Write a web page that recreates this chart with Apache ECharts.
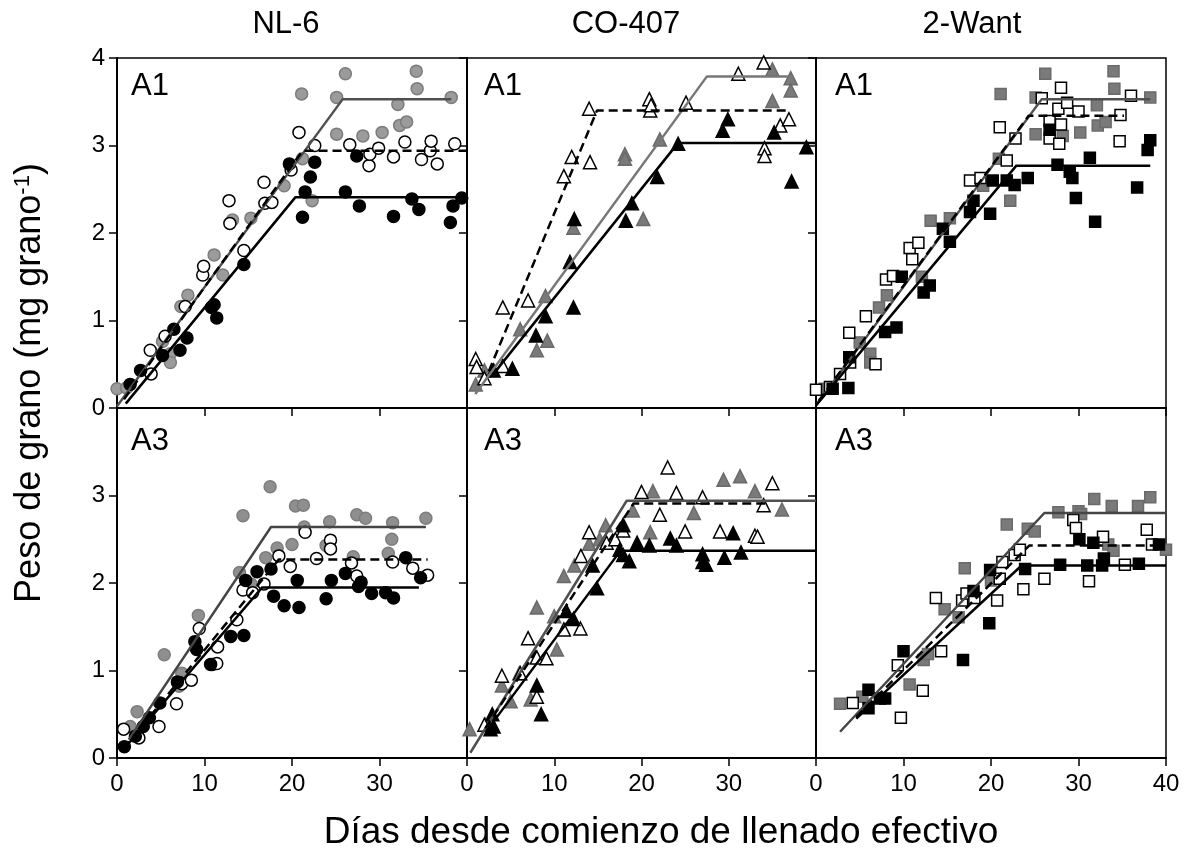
<!DOCTYPE html>
<html><head><meta charset="utf-8">
<script src="https://cdn.jsdelivr.net/npm/echarts@6/dist/echarts.min.js"></script>
<style>html,body{margin:0;padding:0;background:#fff}#c{width:1186px;height:852px}</style>
</head><body><div id="c"></div>
<script>
// ---------- DATA ----------
const columnTitles = ['NL-6', 'CO-407', '2-Want'];
const rowLabels = ['A1', 'A3'];
const xTicks = [0, 10, 20, 30, 40];
const yTicks = [0, 1, 2, 3, 4];
const xAxisTitle = 'Días desde comienzo de llenado efectivo';
const yAxisTitle = 'Peso de grano (mg grano{sup|-1})';

// NL-6, A1 (circles)
const nl6A1Gray = [[0,0.22],[1.1,0.23],[5.2,0.76],[6.1,0.62],[6.1,0.52],[7.3,1.16],[8.1,1.29],[11.1,1.75],[12.1,1.52],[13.2,2.15],[15.3,2.17],[19.1,2.54],[21.1,3.59],[21.2,2.85],[22.3,2.37],[25.1,3.55],[25.1,3.13],[26.1,3.82],[28.1,3.11],[30.3,3.15],[32.1,3.47],[32.3,3.23],[33.1,3.27],[34.2,3.85],[34.3,3.65],[38.2,3.55]];
const nl6A1Open = [[3.8,0.66],[3.9,0.39],[5.5,0.82],[7.8,1.16],[9.8,1.52],[9.9,1.62],[12.8,2.37],[12.9,2.11],[14.5,1.80],[16.8,2.58],[16.9,2.34],[17.7,2.35],[19.9,2.72],[20.8,3.15],[22.6,3.00],[26.6,3.01],[28.8,2.77],[28.9,2.90],[29.9,2.97],[31.6,2.87],[32.9,3.04],[34.8,2.84],[35.8,2.94],[35.9,3.05],[36.6,2.79],[38.6,3.02]];
const nl6A1Black = [[1.5,0.27],[2.7,0.43],[5.2,0.60],[6.5,0.90],[7.2,0.66],[8.0,0.80],[10.8,1.15],[11.1,1.18],[11.4,1.03],[14.5,1.64],[19.7,2.79],[21.2,2.18],[21.5,2.47],[22.1,2.64],[22.6,2.81],[26.1,2.47],[27.4,2.88],[27.7,2.31],[31.6,2.19],[33.7,2.39],[34.5,2.27],[38.1,2.12],[38.4,2.31],[39.4,2.40]];
const nl6A1GrayFit = [[0,0.02],[25.8,3.53],[38.2,3.53]];
const nl6A1DashFit = [[0.8,0.10],[21.2,2.94],[40,2.94]];
const nl6A1BlackFit = [[1,0.05],[20.4,2.41],[40,2.41]];

// CO-407, A1 (triangles)
const co407A1Gray = [[1.0,0.27],[2.0,0.43],[6.1,0.90],[8.0,0.66],[9.0,1.28],[9.2,0.77],[12.2,2.06],[18.1,2.90],[18.1,2.85],[20.2,2.16],[22.1,3.07],[35.0,3.87],[35.0,3.51],[37.1,3.77],[37.1,3.63]];
const co407A1Open = [[1.0,0.56],[1.1,0.47],[2.0,0.34],[4.1,1.15],[4.1,0.48],[7.0,1.23],[11.1,2.65],[12.0,2.87],[14.0,3.42],[14.1,2.81],[20.9,3.53],[21.0,3.40],[21.1,3.46],[25.1,3.49],[31.1,3.82],[34.0,3.95],[34.1,2.97],[34.1,2.88],[35.9,3.23],[36.9,3.30]];
const co407A1Black = [[3.05,0.43],[5.2,0.45],[7.9,0.83],[9.0,1.05],[11.8,1.67],[12.2,1.15],[12.3,2.16],[18.2,2.14],[18.9,2.34],[21.8,2.64],[24.2,3.02],[29.3,3.17],[29.9,3.30],[35.2,3.15],[37.2,2.59],[38.9,2.98]];
const co407A1GrayFit = [[0.95,0.16],[27.5,3.79],[37.2,3.79]];
const co407A1DashFit = [[2.5,0.42],[14.9,3.40],[36.8,3.40]];
const co407A1BlackFit = [[3.2,0.41],[24.2,3.03],[40,3.03]];

// 2-Want, A1 (squares)
const want2A1Gray = [[1.0,0.22],[5.0,0.75],[6.2,0.62],[6.2,0.52],[7.2,1.15],[8.1,1.29],[12.1,1.50],[13.1,2.14],[15.3,2.17],[19.1,2.54],[20.9,2.85],[21.1,3.59],[22.2,2.37],[25.1,3.55],[25.1,3.13],[26.2,3.82],[28.2,3.11],[30.2,3.15],[32.1,3.46],[32.2,3.23],[33.1,3.27],[34.0,3.85],[34.1,3.65],[38.2,3.55]];
const want2A1Open = [[0,0.21],[1.6,0.24],[2.75,0.39],[3.8,0.86],[3.9,0.52],[5.7,1.05],[6.8,0.50],[8.0,1.47],[8.8,1.51],[10.7,1.83],[11.0,1.70],[11.7,1.89],[17.6,2.60],[18.8,2.63],[21.0,3.21],[21.8,2.83],[22.8,3.08],[25.8,3.54],[26.7,3.28],[26.7,3.08],[27.7,3.42],[27.8,3.02],[28.0,3.66],[28.0,3.24],[28.7,3.49],[30.0,3.39],[34.7,3.05],[34.8,3.35],[36.0,3.57]];
const want2A1Black = [[1.9,0.22],[3.7,0.23],[3.8,0.58],[7.9,0.87],[9.2,0.92],[9.8,1.50],[12.3,1.32],[13.0,1.40],[14.5,2.05],[15.3,1.90],[17.6,2.24],[18.0,2.37],[19.9,2.22],[20.2,2.60],[21.8,2.60],[22.7,2.55],[24.2,2.63],[26.7,3.18],[27.6,2.78],[29.0,2.70],[29.3,2.63],[29.7,2.40],[31.3,2.86],[31.9,2.13],[36.7,2.52],[37.9,2.95],[38.2,3.06]];
const want2A1GrayFit = [[0,0.03],[25.8,3.53],[38.2,3.53]];
const want2A1DashFit = [[0.3,0.08],[24.3,3.34],[35.2,3.34]];
const want2A1BlackFit = [[0,0.03],[22.9,2.77],[38.2,2.77]];

// NL-6, A3 (circles)
const nl6A3Gray = [[1.5,0.36],[2.3,0.53],[5.4,1.18],[7.1,0.82],[7.4,0.97],[9.3,1.63],[14.0,2.12],[14.4,2.77],[15.3,1.99],[17.0,2.29],[17.5,3.10],[18.3,2.40],[20.0,2.44],[20.4,2.88],[21.3,2.89],[21.4,2.64],[23.9,2.43],[24.3,2.70],[27.0,2.30],[27.4,2.78],[28.4,2.74],[31.0,2.34],[31.4,2.50],[31.5,2.69],[35.3,2.74]];
const nl6A3Open = [[0.76,0.33],[2.5,0.23],[4.8,0.36],[6.8,0.62],[7.4,0.85],[8.5,0.89],[9.4,1.48],[10.9,1.07],[11.4,1.08],[11.5,1.27],[13.7,1.58],[14.4,1.92],[15.5,1.89],[16.8,1.99],[18.5,2.31],[19.8,2.19],[21.5,2.58],[22.8,2.28],[24.4,2.49],[24.4,2.39],[26.8,2.23],[27.4,2.08],[31.5,2.24],[33.8,2.17],[35.5,2.09]];
const nl6A3Black = [[0.84,0.13],[2.1,0.25],[3.0,0.36],[3.7,0.46],[4.9,0.63],[6.9,0.87],[8.9,1.33],[9.1,1.24],[10.7,1.07],[13.0,1.39],[14.5,1.40],[14.7,2.03],[16.0,2.13],[17.6,2.16],[17.9,1.85],[19.1,1.74],[20.6,2.03],[20.8,1.72],[23.9,1.82],[24.5,2.03],[26.1,2.11],[27.6,1.96],[27.9,2.01],[29.1,1.88],[30.7,1.89],[31.6,1.83],[33.0,2.29],[34.7,2.06]];
const nl6A3GrayFit = [[1.34,0.21],[17.6,2.64],[35.3,2.64]];
const nl6A3DashFit = [[0.76,0.11],[18.5,2.27],[35.5,2.27]];
const nl6A3BlackFit = [[0.76,0.10],[16.6,1.95],[34.5,1.95]];

// CO-407, A3 (triangles)
const co407A3Gray = [[0.3,0.33],[2.1,0.38],[4.0,0.83],[5.0,0.65],[6.0,0.97],[7.3,0.67],[8.0,1.72],[10.0,1.62],[10.3,1.24],[11.1,2.08],[12.3,2.20],[14.0,2.45],[15.2,2.50],[15.9,2.66],[17.9,2.67],[19.0,2.83],[21.0,2.58],[21.3,3.05],[26.0,2.80],[29.4,3.18],[31.3,3.22],[33.0,3.05],[36.1,2.84]];
const co407A3Open = [[2.0,0.38],[4.0,0.94],[6.1,0.97],[7.0,1.37],[8.0,1.15],[8.0,0.70],[9.1,1.14],[11.1,1.47],[13.0,1.48],[13.05,2.31],[14.0,2.58],[16.0,2.46],[17.0,2.50],[17.9,2.60],[20.0,3.04],[22.1,2.78],[23.0,3.32],[24.0,3.03],[25.0,2.59],[27.0,2.98],[29.0,2.59],[33.0,2.54],[33.3,2.53],[34.0,2.89],[35.0,3.14]];
const co407A3Black = [[2.7,0.33],[2.9,0.50],[3.05,0.36],[8.0,0.83],[8.5,0.50],[11.4,1.68],[12.2,1.59],[14.4,2.20],[14.9,1.94],[17.5,2.38],[17.9,2.32],[17.9,2.66],[18.6,2.25],[19.5,2.46],[20.9,2.43],[23.3,2.51],[24.0,2.43],[27.0,2.33],[27.0,2.24],[27.4,2.21],[29.5,2.29],[30.5,2.57],[31.4,2.35]];
const co407A3GrayFit = [[0.38,0.06],[18.3,2.94],[40,2.94]];
const co407A3DashFit = [[2.1,0.34],[19.1,2.91],[34.5,2.91]];
const co407A3BlackFit = [[2.1,0.29],[17.6,2.37],[40,2.37]];

// 2-Want, A3 (squares)
const want2A3Gray = [[2.75,0.62],[5.3,0.70],[10.7,0.84],[12.3,1.12],[12.8,1.19],[14.7,1.70],[16.3,1.61],[17.0,2.17],[20.0,2.03],[21.8,2.67],[24.2,2.62],[25.0,2.59],[27.7,2.81],[30.0,2.82],[30.3,2.79],[31.8,2.96],[33.4,2.44],[33.8,2.88],[34.0,2.37],[36.8,2.88],[38.2,2.98],[40.0,2.38]];
const want2A3Open = [[4.2,0.63],[9.35,1.06],[9.7,0.46],[12.2,0.77],[13.7,1.83],[14.3,1.22],[16.7,1.80],[17.2,1.88],[18.1,1.83],[20.7,1.80],[21.0,2.05],[21.3,2.24],[22.7,2.32],[23.3,2.38],[23.7,1.93],[26.1,2.05],[29.4,2.72],[29.7,2.63],[31.2,2.02],[32.8,2.53],[35.3,2.21],[37.8,2.61],[38.4,2.44]];
const want2A3Black = [[6.0,0.78],[6.0,0.57],[7.3,0.68],[7.9,0.68],[10.0,1.22],[16.8,1.12],[18.0,1.91],[19.8,1.54],[19.9,2.15],[23.9,2.16],[27.9,2.21],[30.1,2.50],[31.0,2.20],[31.7,2.46],[32.7,2.20],[32.9,2.28],[36.9,2.22],[39.2,2.44]];
const want2A3GrayFit = [[2.75,0.30],[26.1,2.80],[40,2.80]];
const want2A3DashFit = [[4.6,0.47],[24.4,2.43],[39.3,2.43]];
const want2A3BlackFit = [[4.6,0.45],[23.5,2.20],[40,2.20]];

// ---------- LAYOUT / STYLE ----------
const FONT = '"Liberation Sans", Arial, Helvetica, sans-serif';
const colLeft = [117, 467, 816];
const colWidth = [350, 349, 350];
const rowTop = [58, 408];
const rowHeight = 350;

const panels = [
  {row:0,col:0,sym:'circle',size:12,grayFill:'#9b9b9b',grayBorder:'#7d7d7d',grayLine:'#505050',gray:nl6A1Gray,open:nl6A1Open,black:nl6A1Black,gf:nl6A1GrayFit,df:nl6A1DashFit,bf:nl6A1BlackFit},
  {row:0,col:1,sym:'triangle',size:13,grayFill:'#7a7a7a',grayBorder:'#6a6a6a',grayLine:'#777777',gray:co407A1Gray,open:co407A1Open,black:co407A1Black,gf:co407A1GrayFit,df:co407A1DashFit,bf:co407A1BlackFit},
  {row:0,col:2,sym:'rect',size:11,grayFill:'#7a7a7a',grayBorder:'#6a6a6a',grayLine:'#505050',gray:want2A1Gray,open:want2A1Open,black:want2A1Black,gf:want2A1GrayFit,df:want2A1DashFit,bf:want2A1BlackFit},
  {row:1,col:0,sym:'circle',size:12,grayFill:'#8f8f8f',grayBorder:'#7d7d7d',grayLine:'#454545',gray:nl6A3Gray,open:nl6A3Open,black:nl6A3Black,gf:nl6A3GrayFit,df:nl6A3DashFit,bf:nl6A3BlackFit},
  {row:1,col:1,sym:'triangle',size:13,grayFill:'#7a7a7a',grayBorder:'#6a6a6a',grayLine:'#505050',gray:co407A3Gray,open:co407A3Open,black:co407A3Black,gf:co407A3GrayFit,df:co407A3DashFit,bf:co407A3BlackFit},
  {row:1,col:2,sym:'rect',size:11,grayFill:'#7a7a7a',grayBorder:'#6a6a6a',grayLine:'#454545',gray:want2A3Gray,open:want2A3Open,black:want2A3Black,gf:want2A3GrayFit,df:want2A3DashFit,bf:want2A3BlackFit}
];

const grid = [], xAxis = [], yAxis = [], series = [];
panels.forEach((p, i) => {
  grid.push({left: colLeft[p.col], top: rowTop[p.row], width: colWidth[p.col], height: rowHeight,
    show: true, borderColor: '#000', borderWidth: 1.5, backgroundColor: 'transparent',
    containLabel: false, outerBoundsMode: 'none'});
  const showX = p.row === 1;
  const hideX40 = p.col < 2;
  xAxis.push({type: 'value', gridIndex: i, min: xTicks[0], max: xTicks[xTicks.length-1], interval: 10,
    splitLine: {show: false},
    axisLine: {show: true, onZero: false, lineStyle: {color: '#000', width: 2}},
    axisTick: {show: true, inside: false, length: 8, lineStyle: {color: '#000', width: 1.5}},
    axisLabel: {show: showX, margin: 14, color: '#000', fontSize: 24, fontFamily: FONT,
      showMinLabel: true, showMaxLabel: true,
      formatter: v => (hideX40 && v === 40) ? '' : String(v)}
  });
  const showY = p.col === 0;
  const hideY4 = p.row === 1;
  yAxis.push({type: 'value', gridIndex: i, min: yTicks[0], max: yTicks[yTicks.length-1], interval: 1,
    splitLine: {show: false},
    axisLine: {show: true, onZero: false, lineStyle: {color: '#000', width: 2}},
    axisTick: {show: true, inside: false, length: 8, lineStyle: {color: '#000', width: 1.5}},
    axisLabel: {show: showY, margin: 12, color: '#000', fontSize: 24, fontFamily: FONT,
      showMinLabel: true, showMaxLabel: true,
      formatter: v => (hideY4 && v === 4) ? '' : String(v)}
  });
  const sc = (data, fill, border, z) => ({type: 'scatter', xAxisIndex: i, yAxisIndex: i, data,
    symbol: p.sym, symbolSize: p.size, z, silent: true, animation: false,
    itemStyle: {color: fill, borderColor: border, borderWidth: 1.5, opacity: 1}});
  const ln = (data, color, type, z) => ({type: 'line', xAxisIndex: i, yAxisIndex: i, data,
    symbol: 'none', z, silent: true, animation: false,
    lineStyle: {color, width: 2.5, type}});
  series.push(sc(p.gray, p.grayFill, p.grayBorder, 2));
  series.push(sc(p.open, '#ffffff', '#000000', 3));
  series.push(sc(p.black, '#000000', '#000000', 4));
  series.push(ln(p.gf, p.grayLine, 'solid', 5));
  series.push(ln(p.df, '#000000', [9, 5], 5));
  series.push(ln(p.bf, '#000000', 'solid', 5));
});

const graphic = [];
const titleX = [286, 626, 972];
columnTitles.forEach((t, c) => graphic.push({type: 'text', x: titleX[c], y: 24,
  style: {text: t, fontSize: 31, fontFamily: FONT, fill: '#000', align: 'center', verticalAlign: 'middle'}}));
const panelLabelX = [131, 484, 835];
const panelLabelY = [86, 441];
rowLabels.forEach((t, r) => [0,1,2].forEach(c => graphic.push({type: 'text', x: panelLabelX[c], y: panelLabelY[r],
  style: {text: t, fontSize: 31, fontFamily: FONT, fill: '#000', align: 'left', verticalAlign: 'middle'}})));
graphic.push({type: 'text', x: 661, y: 833,
  style: {text: xAxisTitle, fontSize: 37, fontFamily: FONT, fill: '#000', align: 'center', verticalAlign: 'middle'}});
graphic.push({type: 'text', x: 30, y: 383, rotation: Math.PI / 2,
  style: {text: yAxisTitle, fontSize: 36, fontFamily: FONT, fill: '#000', align: 'center', verticalAlign: 'middle',
    rich: {sup: {fontSize: 22, fontFamily: FONT, fill: '#000', verticalAlign: 'top', lineHeight: 36}}}});

const chart = echarts.init(document.getElementById('c'), null, {renderer: 'canvas'});
chart.setOption({backgroundColor: '#fff', animation: false, grid, xAxis, yAxis, series, graphic});
</script></body></html>
